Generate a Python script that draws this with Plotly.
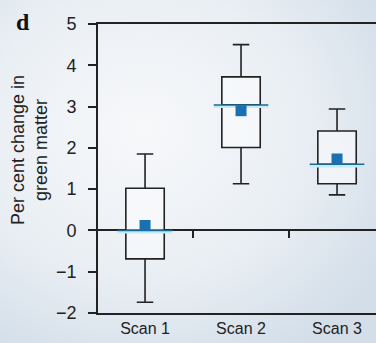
import plotly.graph_objects as go

categories = ["Scan 1", "Scan 2", "Scan 3"]
xpos = [1, 2, 3]
lower_whisker = [-1.74, 1.13, 0.86]
q1 = [-0.69, 2.01, 1.13]
median = [0.0, 3.04, 1.60]
q3 = [1.02, 3.72, 2.41]
upper_whisker = [1.85, 4.50, 2.94]
mean = [0.12, 2.90, 1.73]
y_ticks = [-2, -1, 0, 1, 2, 3, 4, 5]

FONT = "Liberation Sans, Arial, Helvetica, sans-serif"

bg_svg = (
    "data:image/svg+xml;utf8,"
    "<svg xmlns='http://www.w3.org/2000/svg' width='376' height='343'>"
    "<defs><radialGradient id='g' cx='0.38' cy='0.38' r='0.75'>"
    "<stop offset='0' stop-color='%23f7f8fa'/>"
    "<stop offset='0.55' stop-color='%23eaeff4'/>"
    "<stop offset='1' stop-color='%23d3dee9'/>"
    "</radialGradient></defs>"
    "<rect width='376' height='343' fill='url(%23g)'/></svg>"
)

fig = go.Figure()

fig.add_trace(go.Box(
    x=xpos, q1=q1, median=median, q3=q3,
    lowerfence=lower_whisker, upperfence=upper_whisker,
    line=dict(color="#222222", width=1.6),
    fillcolor="rgba(250,252,253,0.6)",
    width=0.4, whiskerwidth=0.43,
    boxpoints=False, showlegend=False, hoverinfo="skip",
))

# median glow
fig.add_trace(go.Scatter(
    x=xpos, y=[m - 0.04 for m in median], mode="markers",
    marker=dict(symbol="line-ew", size=39, line=dict(color="#c3ebf8", width=3)),
    showlegend=False, hoverinfo="skip",
))
# median line
fig.add_trace(go.Scatter(
    x=xpos, y=median, mode="markers",
    marker=dict(symbol="line-ew", size=39, line=dict(color="#1d6a8e", width=1.5)),
    showlegend=False, hoverinfo="skip",
))
# mean squares
fig.add_trace(go.Scatter(
    x=xpos, y=mean, mode="markers",
    marker=dict(symbol="square", size=11, color="#1a70b0"),
    showlegend=False, hoverinfo="skip",
))
# invisible trace for the zero-line tick axis
fig.add_trace(go.Scatter(
    x=[1.5, 2.5], y=[0, 0], xaxis="x2", mode="markers",
    marker=dict(opacity=0), showlegend=False, hoverinfo="skip",
))

xr = [0.51, 3.406]
fig.update_layout(
    width=376, height=343,
    margin=dict(l=98, r=0, t=24, b=30),
    paper_bgcolor="#e9eef3",
    plot_bgcolor="rgba(0,0,0,0)",
    font=dict(family=FONT, size=16, color="#222222"),
    images=[dict(source=bg_svg, xref="paper", yref="paper", x=-98/278, y=1 + 24/289,
                 sizex=376/278, sizey=343/289, sizing="stretch", layer="below",
                 xanchor="left", yanchor="top")],
    xaxis=dict(
        range=xr, tickvals=xpos, ticktext=categories,
        showline=True, linecolor="#222222", linewidth=1.6, mirror=True,
        ticks="", showgrid=False, zeroline=False,
        tickfont=dict(size=16), fixedrange=True,
    ),
    xaxis2=dict(
        range=xr, overlaying="x", anchor="free", position=2 / 7,
        tickvals=[1.5, 2.5], ticks="outside", ticklen=7, tickwidth=1.6,
        tickcolor="#222222", showticklabels=False, showline=False,
        showgrid=False, zeroline=False, fixedrange=True,
    ),
    yaxis=dict(
        range=[-2, 5], tickvals=y_ticks,
        showline=True, linecolor="#222222", linewidth=1.6,
        ticks="outside", ticklen=8, tickwidth=1.6, tickcolor="#222222",
        showgrid=False, zeroline=True, zerolinecolor="#222222", zerolinewidth=1.6,
        tickfont=dict(size=18), ticklabelstandoff=8, fixedrange=True,
    ),
    annotations=[
        dict(text="<b>d</b>", xref="paper", yref="paper", x=-75 / 278, y=1 + 2 / 289,
             xanchor="center", yanchor="middle", showarrow=False,
             font=dict(family="Liberation Serif, DejaVu Serif, serif", size=24, color="#111111")),
        dict(text="Per cent change in<br>green matter", xref="paper", yref="paper",
             x=-69 / 278, y=(313 - 150) / 289, xanchor="center", yanchor="middle",
             textangle=-90, showarrow=False, font=dict(size=18, color="#222222")),
    ],
)

fig.write_html("out.html", config={"displayModeBar": False, "staticPlot": False})
with open("out.html", "r", encoding="utf-8") as f:
    html = f.read()
html = html.replace("<body>", "<body style=\"margin:0;padding:0;\">", 1)
with open("out.html", "w", encoding="utf-8") as f:
    f.write(html)
